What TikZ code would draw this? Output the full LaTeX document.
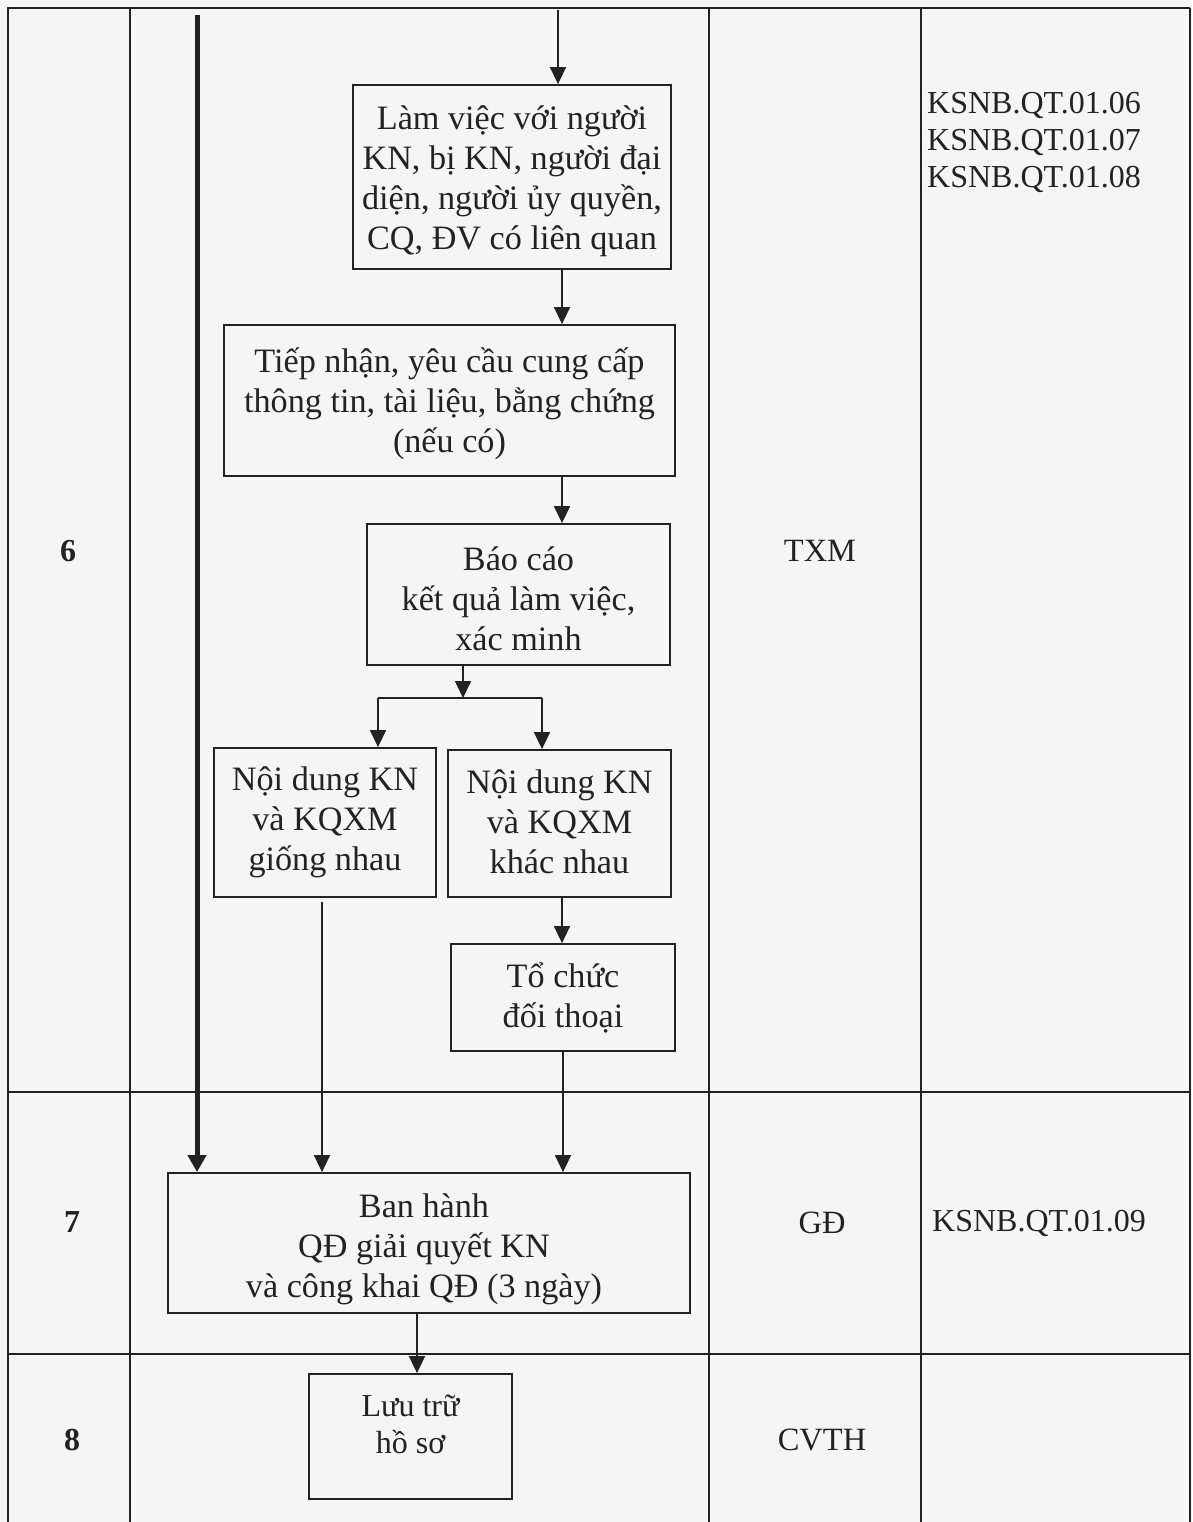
\documentclass[tikz,border=0pt]{standalone}
\usepackage{fontspec}
\setmainfont{Liberation Serif}
\usetikzlibrary{arrows.meta}
\definecolor{ink}{HTML}{222222}
\definecolor{paper}{HTML}{F5F5F5}
\begin{document}
\begin{tikzpicture}[x=1pt,y=-1pt,
  grid/.style={line width=1.5pt, draw=ink},
  box/.style={draw=ink, line width=1.8pt, inner sep=0pt},
  boxtext/.style={align=center, inner sep=0pt, text=ink, font=\fontsize{34.2}{40}\selectfont},
  line/.style={draw=ink, line width=1.6pt},
  arr/.style={draw=ink, line width=1.6pt, -{Triangle[width=16pt,length=17pt]}},
  thickarr/.style={draw=ink, line width=5pt, -{Triangle[width=18pt,length=17pt]}},
  cell/.style={text=ink, inner sep=0pt, font=\fontsize{32.5}{38}\selectfont},
  num/.style={text=ink, inner sep=0pt, font=\fontsize{32}{38}\selectfont\bfseries}]
\fill[paper] (0,0) rectangle (1192,1522);
\useasboundingbox (0,0) rectangle (1192,1522);
% table
\draw[grid] (7,8) -- (1190,8);
\draw[grid] (8,1092) -- (1190,1092);
\draw[grid] (8,1354) -- (1190,1354);
\draw[grid] (8,8) -- (8,1522);
\draw[grid] (130,8) -- (130,1522);
\draw[grid] (709,8) -- (709,1522);
\draw[grid] (921,8) -- (921,1522);
\draw[grid] (1190,8) -- (1190,1522);
% cell texts
\node[num] (n6) at (68,551) {6};
\node[num] (n7) at (72,1222) {7};
\node[num] (n8) at (72,1440) {8};
\node[cell] (txm) at (820,551) {TXM};
\node[cell] (gd) at (822,1223) {GĐ};
\node[cell] (cvth) at (822,1440) {CVTH};
\node[cell, anchor=west, align=left, font=\fontsize{32}{37}\selectfont] (ks1) at (927,142) {KSNB.QT.01.06\\KSNB.QT.01.07\\KSNB.QT.01.08};
\node[cell, font=\fontsize{32}{37}\selectfont] (ks2) at (1039,1223) {KSNB.QT.01.09};
% boxes
\node[box, minimum width=318pt, minimum height=184pt,
  label={[boxtext, yshift=-4pt]center:Làm việc với người\\KN, bị KN, người đại\\diện, người ủy quyền,\\CQ, ĐV có liên quan}] (lv) at (512,177) {};
\node[box, minimum width=451pt, minimum height=151pt,
  label={[boxtext, yshift=-3pt]center:Tiếp nhận, yêu cầu cung cấp\\thông tin, tài liệu, bằng chứng\\(nếu có)}] (tn) at (449.5,400.5) {};
\node[box, minimum width=303pt, minimum height=141pt,
  label={[boxtext, yshift=-4pt]center:Báo cáo\\kết quả làm việc,\\xác minh}] (bc) at (518.5,594.5) {};
\node[box, minimum width=222pt, minimum height=149pt,
  label={[boxtext]center:Nội dung KN\\và KQXM\\giống nhau}] (gn) at (325,822.5) {};
\node[box, minimum width=223pt, minimum height=147pt,
  label={[boxtext, yshift=1.5pt]center:Nội dung KN\\và KQXM\\khác nhau}] (kn) at (559.5,823.5) {};
\node[box, minimum width=224pt, minimum height=107pt,
  label={[boxtext]center:Tổ chức\\đối thoại}] (tc) at (563,997.5) {};
\node[box, minimum width=522pt, minimum height=140pt,
  label={[boxtext, yshift=-6pt, xshift=-5pt]center:Ban hành\\QĐ giải quyết KN\\và công khai QĐ (3 ngày)}] (bh) at (429,1243) {};
\node[box, minimum width=203pt, minimum height=125pt,
  label={[boxtext, yshift=12pt, font=\fontsize{32}{37}\selectfont]center:Lưu trữ\\hồ sơ}] (lt) at (410.5,1436.5) {};
% connectors
\coordinate (topin) at (558,10);
\coordinate (c1) at (562,0);
\coordinate (c3) at (322,0);
\coordinate (c4) at (563,0);
\coordinate (c5) at (417,0);
\coordinate (sp) at (463,698);
\coordinate (bl) at (378,698);
\coordinate (br) at (542,698);
\coordinate (thk) at (197,15);
\draw[arr] (topin) -- (topin |- lv.north);
\draw[arr] (lv.south -| c1) -- (tn.north -| c1);
\draw[arr] (tn.south -| c1) -- (bc.north -| c1);
\draw[arr] (bc.south -| sp) -- (sp);
\draw[line] (bl) -- (br);
\draw[arr] (bl) -- (bl |- gn.north);
\draw[arr] (br) -- (br |- kn.north);
\draw[arr] (kn.south -| c1) -- (tc.north -| c1);
\draw[arr] ([yshift=-4pt]gn.south -| c3) -- (bh.north -| c3);
\draw[arr] (tc.south -| c4) -- (bh.north -| c4);
\draw[thickarr] (thk) -- (thk |- bh.north);
\draw[arr] (bh.south -| c5) -- (lt.north -| c5);
\end{tikzpicture}
\end{document}
